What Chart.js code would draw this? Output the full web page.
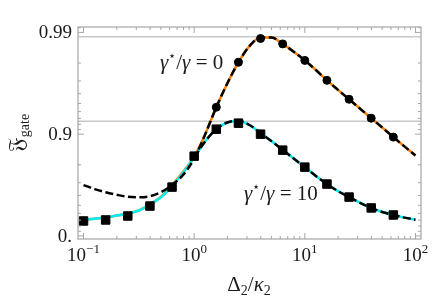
<!DOCTYPE html>
<html>
<head>
<meta charset="utf-8">
<script src="https://cdn.jsdelivr.net/npm/chart.js@4.4.1/dist/chart.umd.min.js"></script>
<style>
html, body { margin: 0; padding: 0; background: #fff; }
</style>
</head>
<body>
<canvas id="grafico" width="432" height="307"></canvas>
<script>
// eixo y guardado como "noves": -log10(1 - F_gate)
// eixo x guardado como expoente: Delta2/kappa2 = 10^exp
var curvaExp = [-1.0, -0.9, -0.8, -0.7, -0.6, -0.5, -0.4, -0.3, -0.2, -0.1,
    0.0, 0.1, 0.2, 0.3, 0.4, 0.5, 0.6, 0.7, 0.8, 0.9,
    1.0, 1.1, 1.2, 1.3, 1.4, 1.5, 1.6, 1.7, 1.8, 1.9, 2.0];
// curva exata (laranja) e aproximacao tracejada para gamma*/gamma = 0
var noves0 = [0.16, 0.17, 0.18, 0.20, 0.22, 0.25, 0.31, 0.385, 0.50, 0.63,
    0.78, 1.00, 1.265, 1.50, 1.706, 1.865, 1.95, 1.95, 1.887, 1.81,
    1.725, 1.63, 1.529, 1.435, 1.343, 1.25, 1.157, 1.065, 0.971, 0.88, 0.79];
var tracejado0 = [0.50, 0.46, 0.43, 0.405, 0.385, 0.38, 0.39, 0.43, 0.50, 0.60,
    0.76, 1.00, 1.265, 1.50, 1.706, 1.865, 1.95, 1.95, 1.887, 1.81,
    1.725, 1.63, 1.529, 1.435, 1.343, 1.25, 1.157, 1.065, 0.971, 0.88, 0.79];
var noves10 = [0.16, 0.17, 0.18, 0.20, 0.22, 0.25, 0.31, 0.38, 0.49, 0.62,
    0.77, 0.93, 1.05, 1.115, 1.13, 1.09, 1.01, 0.93, 0.845, 0.76,
    0.676, 0.59, 0.51, 0.44, 0.382, 0.325, 0.275, 0.235, 0.205, 0.18, 0.16];
var inicioTracejado10 = 10; // indice onde comeca o tracejado da curva ciano

var circulosExp = [0.2, 0.4, 0.6, 0.8, 1.0, 1.2, 1.4, 1.6, 1.8];
var circulosNoves = [1.265, 1.706, 1.94, 1.887, 1.725, 1.529, 1.343, 1.157, 0.971];
var quadradosExp = [-1.0, -0.8, -0.6, -0.4, -0.2, 0.0, 0.2, 0.4, 0.6, 0.8, 1.0, 1.2, 1.4, 1.6, 1.8];
var quadradosNoves = [0.147, 0.157, 0.196, 0.294, 0.48, 0.784, 1.049, 1.108, 1.0, 0.843, 0.676, 0.51, 0.382, 0.275, 0.206];

var picosNoves = [1.958, 1.127];

var xTicksExp = [-1, 0, 1, 2];
var xTicksSup = ['\u22121', '0', '1', '2'];
var yTicksF = [0, 0.9, 0.99];
var yTicksLabels = ['0.', '0.9', '0.99'];
var yMinorF = [0.1, 0.2, 0.3, 0.4, 0.5, 0.6, 0.7, 0.8, 0.91, 0.92, 0.93, 0.94, 0.95, 0.96, 0.97, 0.98, 0.991];

function noves(f) { return -Math.log10(1 - f); }
function pontos(exps, ys) {
    return exps.map(function (e, i) { return { x: Math.pow(10, e), y: ys[i] }; });
}

var SERIF = '"Liberation Serif", "DejaVu Serif", serif';
var CINZA = '#a6a6a6';

function textoRico(ctx, partes, x, y, alinhar) {
    var largura = 0;
    partes.forEach(function (p) { ctx.font = p[1]; largura += ctx.measureText(p[0]).width; });
    var cx = alinhar === 'center' ? x - largura / 2 : (alinhar === 'right' ? x - largura : x);
    ctx.textAlign = 'left';
    ctx.textBaseline = 'alphabetic';
    partes.forEach(function (p) {
        ctx.font = p[1];
        ctx.fillText(p[0], cx, y + (p[2] || 0));
        cx += ctx.measureText(p[0]).width;
    });
}

var molduraPlugin = {
    id: 'moldura',
    beforeDatasetsDraw: function (chart) {
        var ctx = chart.ctx, a = chart.chartArea, sy = chart.scales.y;
        ctx.save();
        ctx.strokeStyle = '#c8c8c8';
        ctx.lineWidth = 1.5;
        picosNoves.forEach(function (v) {
            var py = sy.getPixelForValue(v);
            ctx.beginPath();
            ctx.moveTo(a.left, py);
            ctx.lineTo(a.right, py);
            ctx.stroke();
        });
        ctx.restore();
    },
    afterDatasetsDraw: function (chart) {
        var ctx = chart.ctx, a = chart.chartArea;
        var sx = chart.scales.x, sy = chart.scales.y;
        ctx.save();
        ctx.strokeStyle = CINZA;
        ctx.lineWidth = 1.2;
        ctx.strokeRect(a.left, a.top, a.right - a.left, a.bottom - a.top);

        function tickX(px, len) {
            ctx.beginPath();
            ctx.moveTo(px, a.bottom); ctx.lineTo(px, a.bottom - len);
            ctx.moveTo(px, a.top); ctx.lineTo(px, a.top + len);
            ctx.stroke();
        }
        function tickY(py, len) {
            ctx.beginPath();
            ctx.moveTo(a.left, py); ctx.lineTo(a.left + len, py);
            ctx.moveTo(a.right, py); ctx.lineTo(a.right - len, py);
            ctx.stroke();
        }
        ctx.lineWidth = 1;
        xTicksExp.forEach(function (e) {
            var d = Math.pow(10, e);
            tickX(sx.getPixelForValue(d), 6);
            if (e < 2) {
                for (var k = 2; k <= 9; k++) tickX(sx.getPixelForValue(k * d), 3);
            }
        });
        yTicksF.forEach(function (f) { tickY(sy.getPixelForValue(noves(f)), 6); });
        yMinorF.forEach(function (f) { tickY(sy.getPixelForValue(noves(f)), 3); });

        ctx.fillStyle = '#1a1a1a';
        // rotulos do eixo x
        xTicksExp.forEach(function (e, i) {
            var px = sx.getPixelForValue(Math.pow(10, e));
            textoRico(ctx, [['10', '19px ' + SERIF, 0], [xTicksSup[i], '13px ' + SERIF, -8]], px, 261, 'center');
        });
        // rotulos do eixo y
        yTicksF.forEach(function (f, i) {
            var py = sy.getPixelForValue(noves(f));
            textoRico(ctx, [[yTicksLabels[i], '19px ' + SERIF, 0]], 72, py + 6, 'right');
        });
        // titulo x
        textoRico(ctx, [
            ['\u0394', '21px ' + SERIF, 0], ['2', '14px ' + SERIF, 4],
            ['/', '21px ' + SERIF, 0], ['\u03ba', 'italic 21px ' + SERIF, 0], ['2', '14px ' + SERIF, 4]
        ], 249, 291, 'center');
        // titulo y
        ctx.save();
        ctx.translate(24, 133);
        ctx.rotate(-Math.PI / 2);
        textoRico(ctx, [['\ud835\udd09', '23px "DejaVu Serif", "DejaVu Sans", serif', 0], ['gate', '14px ' + SERIF, 5]], 0, 0, 'center');
        ctx.restore();
        // anotacoes
        function gamaTexto(valor) {
            return [
                ['\u03b3', 'italic 21px ' + SERIF, 0], ['\u22c6', '13px ' + SERIF, -9],
                ['/', '21px ' + SERIF, 0], ['\u03b3', 'italic 21px ' + SERIF, 0],
                [' = ' + valor, '21px ' + SERIF, 0]
            ];
        }
        textoRico(ctx, gamaTexto('0'), 160, 69, 'left');
        textoRico(ctx, gamaTexto('10'), 244, 200, 'left');
        ctx.restore();
    }
};

var ctx = document.getElementById('grafico').getContext('2d');
new Chart(ctx, {
    type: 'line',
    data: {
        datasets: [
            {
                label: 'circulos',
                data: pontos(circulosExp, circulosNoves),
                showLine: false,
                pointStyle: 'circle',
                pointRadius: 4,
                backgroundColor: '#000',
                borderColor: '#000',
                order: 0
            },
            {
                label: 'quadrados',
                data: pontos(quadradosExp, quadradosNoves),
                showLine: false,
                pointStyle: 'rect',
                pointRadius: 6,
                backgroundColor: '#000',
                borderColor: '#000',
                order: 0
            },
            {
                label: 'tracejado 0',
                data: pontos(curvaExp, tracejado0),
                borderColor: '#000',
                borderWidth: 2.5,
                borderDash: [8, 3.5],
                pointRadius: 0,
                cubicInterpolationMode: 'monotone',
                order: 1
            },
            {
                label: 'tracejado 10',
                data: pontos(curvaExp.slice(inicioTracejado10), noves10.slice(inicioTracejado10)),
                borderColor: '#000',
                borderWidth: 2.5,
                borderDash: [8, 3.5],
                pointRadius: 0,
                cubicInterpolationMode: 'monotone',
                order: 1
            },
            {
                label: 'gamma 10',
                data: pontos(curvaExp, noves10),
                borderColor: '#00eef2',
                borderWidth: 2.5,
                pointRadius: 0,
                cubicInterpolationMode: 'monotone',
                order: 2
            },
            {
                label: 'gamma 0',
                data: pontos(curvaExp, noves0),
                borderColor: '#ff8000',
                borderWidth: 2.5,
                pointRadius: 0,
                cubicInterpolationMode: 'monotone',
                order: 3
            }
        ]
    },
    options: {
        responsive: false,
        animation: false,
        layout: { padding: { left: 78, right: 11, top: 27, bottom: 68 } },
        plugins: { legend: { display: false }, tooltip: { enabled: false } },
        scales: {
            x: { type: 'logarithmic', display: false, min: Math.pow(10, -1.05), max: Math.pow(10, 2.05) },
            y: { type: 'linear', display: false, min: -0.03, max: 2.053 }
        }
    },
    plugins: [molduraPlugin]
});
</script>
</body>
</html>
